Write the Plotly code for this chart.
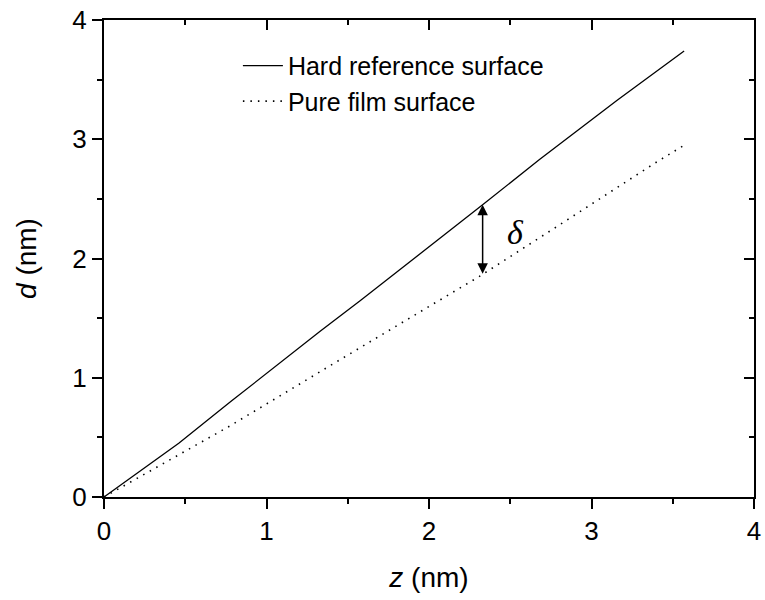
import plotly.graph_objects as go

# Data
hard_z = [0, 0.46, 0.78, 1.33, 1.58, 2.05, 2.33, 2.68, 3.16, 3.57]
hard_d = [0, 0.45, 0.80, 1.39, 1.65, 2.15, 2.45, 2.83, 3.33, 3.74]
film_z = [0, 0.78, 1.50, 2.31, 2.71, 3.39, 3.57]
film_d = [0, 0.60, 1.19, 1.85, 2.20, 2.80, 2.95]
arrow_z = 2.33
arrow_top = 2.45
arrow_bottom = 1.86
delta_pos = (2.53, 2.22)

FONT = "Liberation Sans, Arial, sans-serif"

fig = go.Figure()
fig.add_trace(go.Scatter(x=hard_z, y=hard_d, mode="lines", name="Hard reference surface",
                         line=dict(color="black", width=1.3)))
fig.add_trace(go.Scatter(x=film_z, y=film_d, mode="lines", name="Pure film surface",
                         line=dict(color="black", width=1.6, dash="1.5px,6px")))
# invisible trace to hold the mirror axes
fig.add_trace(go.Scatter(x=[0], y=[0], xaxis="x2", yaxis="y2", mode="markers",
                         marker=dict(opacity=0), showlegend=False, hoverinfo="skip"))

fig.add_annotation(x=arrow_z, y=arrow_top, ax=arrow_z, ay=arrow_bottom,
                   xref="x", yref="y", axref="x", ayref="y", text="",
                   showarrow=True, arrowhead=2, startarrowhead=2, arrowside="end+start",
                   arrowsize=1.4, arrowwidth=1.5, arrowcolor="black")
fig.add_annotation(x=delta_pos[0], y=delta_pos[1], xref="x", yref="y", text="<i>δ</i>",
                   showarrow=False, font=dict(family="Liberation Serif, serif", size=34, color="black"))

axis_common = dict(range=[0, 4], dtick=1, showline=True, linecolor="black", linewidth=2,
                   ticks="outside", ticklen=10, tickwidth=1.5, tickcolor="black",
                   showgrid=False, zeroline=False, automargin=False,
                   tickfont=dict(family=FONT, size=26, color="black"),
                   minor=dict(dtick=0.5, ticks="outside", ticklen=5, tickwidth=1.5, tickcolor="black"))
mirror_common = dict(range=[0, 4], dtick=1, showline=True, linecolor="black", linewidth=2,
                     ticks="inside", ticklen=10, tickwidth=1.5, tickcolor="black", showticklabels=False,
                     showgrid=False, zeroline=False, automargin=False,
                     minor=dict(dtick=0.5, ticks="inside", ticklen=5, tickwidth=1.5, tickcolor="black"))

fig.update_layout(
    width=765, height=600,
    margin=dict(l=104, r=11, t=20, b=103),
    paper_bgcolor="white", plot_bgcolor="white",
    font=dict(family=FONT, color="black"),
    xaxis=dict(**axis_common, title=dict(text="<i>z</i> (nm)", font=dict(family=FONT, size=28), standoff=22)),
    yaxis=dict(**axis_common, title=dict(text="<i>d</i> (nm)", font=dict(family=FONT, size=28), standoff=28)),
    xaxis2=dict(**mirror_common, overlaying="x", side="top"),
    yaxis2=dict(**mirror_common, overlaying="y", side="right"),
    legend=dict(x=0.206, y=0.952, xanchor="left", yanchor="top", bgcolor="rgba(0,0,0,0)",
                font=dict(family=FONT, size=25, color="black"), tracegroupgap=0,
                itemwidth=40),
    showlegend=True,
)

fig.write_html("out.html")
